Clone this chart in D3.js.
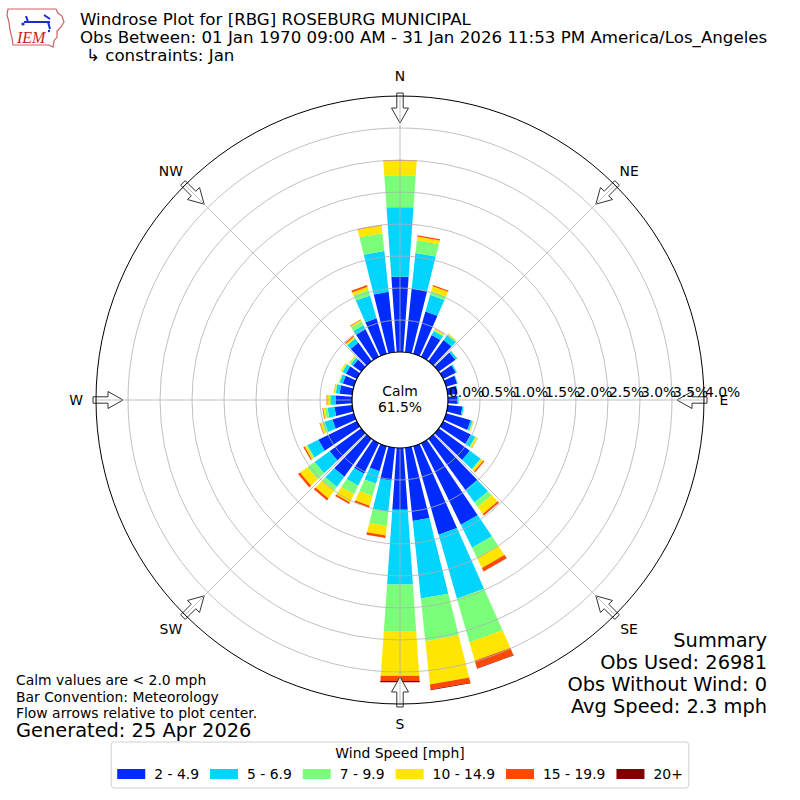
<!DOCTYPE html>
<html>
<head>
<meta charset="utf-8">
<script src="https://cdn.jsdelivr.net/npm/d3@7"></script>
<style>
	body { margin: 0; background: #fff; }
	svg { display: block; font-family: "DejaVu Sans", sans-serif; }
</style>
</head>
<body>
<div id="chart"></div>
<script>
// direction bins (degrees, meteorological: blowing from)
const directions = [0, 10, 20, 30, 40, 50, 60, 70, 80, 90, 100, 110, 120, 130, 140, 150, 160, 170,
	180, 190, 200, 210, 220, 230, 240, 250, 260, 270, 280, 290, 300, 310, 320, 330, 340, 350];

// percent of observations per direction, one array per speed bin
const speed2to5 = [1.18, 1.00, 0.69, 0.38, 0.41, 0.32, 0.22, 0.18, 0.15, 0.15, 0.23, 0.40, 0.48, 0.60, 0.99, 1.42, 1.44, 1.15,
	0.97, 0.52, 0.41, 0.53, 0.73, 0.61, 0.67, 0.35, 0.28, 0.26, 0.20, 0.18, 0.19, 0.16, 0.36, 0.48, 0.58, 0.95];
const speed5to7 = [1.09, 0.56, 0.27, 0.07, 0.09, 0.035, 0.02, 0.01, 0.01, 0.02, 0.02, 0.03, 0.08, 0.21, 0.24, 0.40, 1.04, 1.22,
	1.17, 0.48, 0.20, 0.21, 0.20, 0.29, 0.19, 0.13, 0.11, 0.07, 0.06, 0.05, 0.06, 0.04, 0.08, 0.07, 0.37, 0.64];
const speed7to10 = [0.50, 0.20, 0.06, 0.02, 0.02, 0.005, 0.004, 0.003, 0.002, 0.003, 0.01, 0.01, 0.015, 0.01, 0.09, 0.18, 0.71, 0.67,
	0.73, 0.23, 0.20, 0.15, 0.07, 0.14, 0.02, 0.04, 0.04, 0.03, 0.01, 0.01, 0.01, 0.02, 0.01, 0.07, 0.09, 0.28];
const speed10to15 = [0.23, 0.06, 0.08, 0.02, 0.01, 0.003, 0, 0, 0, 0, 0.003, 0.01, 0.025, 0.04, 0.13, 0.17, 0.30, 0.68,
	0.70, 0.15, 0.16, 0.14, 0.15, 0.14, 0.03, 0.03, 0.03, 0.03, 0.02, 0.01, 0.02, 0.02, 0.02, 0.02, 0.05, 0.12];
const speed15to20 = [0.01, 0.02, 0.02, 0.005, 0.003, 0, 0, 0, 0, 0, 0, 0.003, 0.004, 0.02, 0.03, 0.06, 0.12, 0.08,
	0.08, 0.04, 0.03, 0.03, 0.04, 0.04, 0.02, 0.01, 0.01, 0.01, 0.003, 0, 0, 0, 0.02, 0.01, 0.03, 0.01];
const speed20plus = [0, 0, 0, 0, 0, 0, 0, 0, 0, 0, 0, 0, 0, 0, 0, 0.003, 0.01, 0.01,
	0.02, 0, 0, 0, 0, 0, 0, 0, 0, 0, 0, 0, 0, 0, 0, 0, 0, 0];

const speedLabels = ["2 - 4.9", "5 - 6.9", "7 - 9.9", "10 - 14.9", "15 - 19.9", "20+"];
const speedColors = ["#002bff", "#00d4ff", "#7bff7b", "#ffe500", "#ff4900", "#800000"];

const radialTicks = [0, 0.5, 1.0, 1.5, 2.0, 2.5, 3.0, 3.5, 4.0];
const compassLabels = ["N", "NE", "E", "SE", "S", "SW", "W", "NW"];
const compassAngles = [0, 45, 90, 135, 180, 225, 270, 315];

const calmPercent = "61.5%";
const titleLines = [
	"Windrose Plot for [RBG] ROSEBURG MUNICIPAL",
	"Obs Between: 01 Jan 1970 09:00 AM - 31 Jan 2026 11:53 PM America/Los_Angeles",
	"\u21b3 constraints: Jan",
];
const summaryLines = ["Summary", "Obs Used: 26981", "Obs Without Wind: 0", "Avg Speed: 2.3 mph"];
const noteLines = ["Calm values are < 2.0 mph", "Bar Convention: Meteorology", "Flow arrows relative to plot center."];
const generatedLine = "Generated: 25 Apr 2026";

const width = 800, height = 800;
const cx = 400, cy = 400;
const barWidth = 8; // degrees

const svg = d3.select("#chart")
	.append("svg")
		.attr("width", width)
		.attr("height", height)
		.attr("viewBox", `0 0 ${width} ${height}`);

const rScale = d3.scaleLinear().domain([0, 4]).range([48, 304]);
const aScale = d3.scaleLinear().domain([0, 360]).range([0, 2 * Math.PI]);

function polar(deg, rho) {
	let a = aScale(deg);
	return [cx + rho * Math.sin(a), cy - rho * Math.cos(a)];
}

// stack the speed bins
const series = [speed2to5, speed5to7, speed7to10, speed10to15, speed15to20, speed20plus];
const table = directions.map((d, i) => {
	let row = { dir: d };
	series.forEach((s, k) => row[k] = s[i]);
	return row;
});
const stack = d3.stack().keys(d3.range(series.length))(table);

// bars: straight-edged quads like unsubdivided polar rectangles
const bars = svg.append("g").attr("class", "bars");
stack.forEach((layer, k) => {
	bars.append("g")
		.attr("fill", speedColors[k])
		.selectAll("path")
		.data(layer.filter(d => d[1] - d[0] > 0))
		.enter()
		.append("path")
			.attr("d", d => {
				let dir = d.data.dir;
				let r0 = rScale(d[0]), r1 = rScale(d[1]);
				let pts = [
					polar(dir - barWidth / 2, r0),
					polar(dir - barWidth / 2, r1),
					polar(dir + barWidth / 2, r1),
					polar(dir + barWidth / 2, r0),
				];
				return d3.line()(pts) + "Z";
			});
});

// flow arrows pointing to the centre
const arrowShape = [[-3.2, 307], [3.2, 307], [3.2, 292], [8.5, 292], [0, 277], [-8.5, 292], [-3.2, 292]];
svg.append("g")
	.attr("class", "arrows")
	.selectAll("path")
	.data(compassAngles)
	.enter()
	.append("path")
		.attr("fill", "#fff")
		.attr("stroke", "#333")
		.attr("stroke-width", 1)
		.attr("d", deg => {
			let a = aScale(deg);
			let pts = arrowShape.map(([x, y]) => [
				cx + y * Math.sin(a) + x * Math.cos(a),
				cy - y * Math.cos(a) + x * Math.sin(a),
			]);
			return d3.line()(pts) + "Z";
		});

// grid
const grid = svg.append("g").attr("class", "grid")
	.attr("fill", "none")
	.attr("stroke", "#b0b0b0")
	.attr("stroke-width", 0.8);
grid.selectAll("circle")
	.data(radialTicks.slice(1, -1))
	.enter()
	.append("circle")
		.attr("cx", cx)
		.attr("cy", cy)
		.attr("r", d => rScale(d));
grid.selectAll("line")
	.data(compassAngles)
	.enter()
	.append("line")
		.attr("x1", d => polar(d, rScale(0))[0])
		.attr("y1", d => polar(d, rScale(0))[1])
		.attr("x2", d => polar(d, rScale(4))[0])
		.attr("y2", d => polar(d, rScale(4))[1]);

// spines
svg.append("circle")
	.attr("cx", cx).attr("cy", cy)
	.attr("r", rScale(4))
	.attr("fill", "none")
	.attr("stroke", "#000")
	.attr("stroke-width", 1);
svg.append("circle")
	.attr("cx", cx).attr("cy", cy)
	.attr("r", rScale(0))
	.attr("fill", "#fff")
	.attr("stroke", "#000")
	.attr("stroke-width", 1.2);

// radial tick labels
svg.append("g")
	.attr("font-size", 13.9)
	.selectAll("text")
	.data(radialTicks)
	.enter()
	.append("text")
		.attr("x", d => cx + rScale(d) + 1)
		.attr("y", cy - 3)
		.text(d => d.toFixed(1) + "%");

// compass labels
svg.append("g")
	.attr("font-size", 13.9)
	.attr("text-anchor", "middle")
	.selectAll("text")
	.data(compassLabels)
	.enter()
	.append("text")
		.attr("x", (d, i) => polar(compassAngles[i], 324)[0])
		.attr("y", (d, i) => polar(compassAngles[i], 324)[1])
		.attr("dy", "0.36em")
		.text(d => d);

// calm
let calm = svg.append("g").attr("font-size", 13.9).attr("text-anchor", "middle");
calm.append("text").attr("x", cx).attr("y", 396).text("Calm");
calm.append("text").attr("x", cx).attr("y", 412).text(calmPercent);

// header
svg.append("g")
	.attr("font-size", 16.67)
	.selectAll("text")
	.data(titleLines)
	.enter()
	.append("text")
		.attr("x", (d, i) => i == 2 ? 86 : 80)
		.attr("y", (d, i) => 25 + i * 18)
		.text(d => d);

// logo
let logo = svg.append("g").attr("class", "logo");
logo.append("path")
	.attr("d", "M8,9 L56,9 L58,13 L62,16 L64,22 L61,27 L57,31 L57,37 L54,41 L53,47 L49,45 L13,45 L12,38 L10,30 L9,22 L7,15 Z")
	.attr("fill", "#fff")
	.attr("stroke", "#d06060")
	.attr("stroke-width", 1.2);
logo.append("path")
	.attr("d", "M24,22 L50,22 M26,16 L28,22 M44,15 L50,19 M48,22 L50,29")
	.attr("stroke", "#1a2bd6")
	.attr("stroke-width", 2)
	.attr("fill", "none");
logo.append("circle").attr("cx", 23).attr("cy", 24).attr("r", 1.6).attr("fill", "#1a2bd6");
logo.append("circle").attr("cx", 49).attr("cy", 31).attr("r", 1.2).attr("fill", "#1a2bd6");
logo.append("text")
	.attr("x", 17)
	.attr("y", 43)
	.attr("font-family", "Liberation Serif, serif")
	.attr("font-style", "italic")
	.attr("font-size", 16)
	.attr("fill", "#c82020")
	.text("IEM");

// summary
svg.append("g")
	.attr("font-size", 19.4)
	.attr("text-anchor", "end")
	.selectAll("text")
	.data(summaryLines)
	.enter()
	.append("text")
		.attr("x", 767)
		.attr("y", (d, i) => 647 + i * 22)
		.text(d => d);

// notes
svg.append("g")
	.attr("font-size", 13.9)
	.selectAll("text")
	.data(noteLines)
	.enter()
	.append("text")
		.attr("x", 16)
		.attr("y", (d, i) => 685 + i * 16.5)
		.text(d => d);
svg.append("text")
	.attr("x", 16)
	.attr("y", 737)
	.attr("font-size", 19.4)
	.text(generatedLine);

// legend
let legend = svg.append("g").attr("class", "legend");
let legendBox = legend.append("rect")
	.attr("y", 742)
	.attr("height", 46)
	.attr("rx", 3)
	.attr("fill", "#fff")
	.attr("stroke", "#d0d0d0");
legend.append("text")
	.attr("x", cx)
	.attr("y", 758)
	.attr("text-anchor", "middle")
	.attr("font-size", 13.9)
	.text("Wind Speed [mph]");
let entries = legend.append("g");
let xPos = 0;
speedLabels.forEach((label, k) => {
	entries.append("rect")
		.attr("x", xPos)
		.attr("y", 769)
		.attr("width", 28)
		.attr("height", 10)
		.attr("fill", speedColors[k]);
	let t = entries.append("text")
		.attr("x", xPos + 37)
		.attr("y", 779)
		.attr("font-size", 13.9)
		.text(label);
	xPos += 37 + t.node().getComputedTextLength() + (k < speedLabels.length - 1 ? 11 : 0);
});
entries.attr("transform", `translate(${cx - xPos / 2}, 0)`);
legendBox.attr("x", cx - xPos / 2 - 6).attr("width", xPos + 12);
</script>
</body>
</html>
